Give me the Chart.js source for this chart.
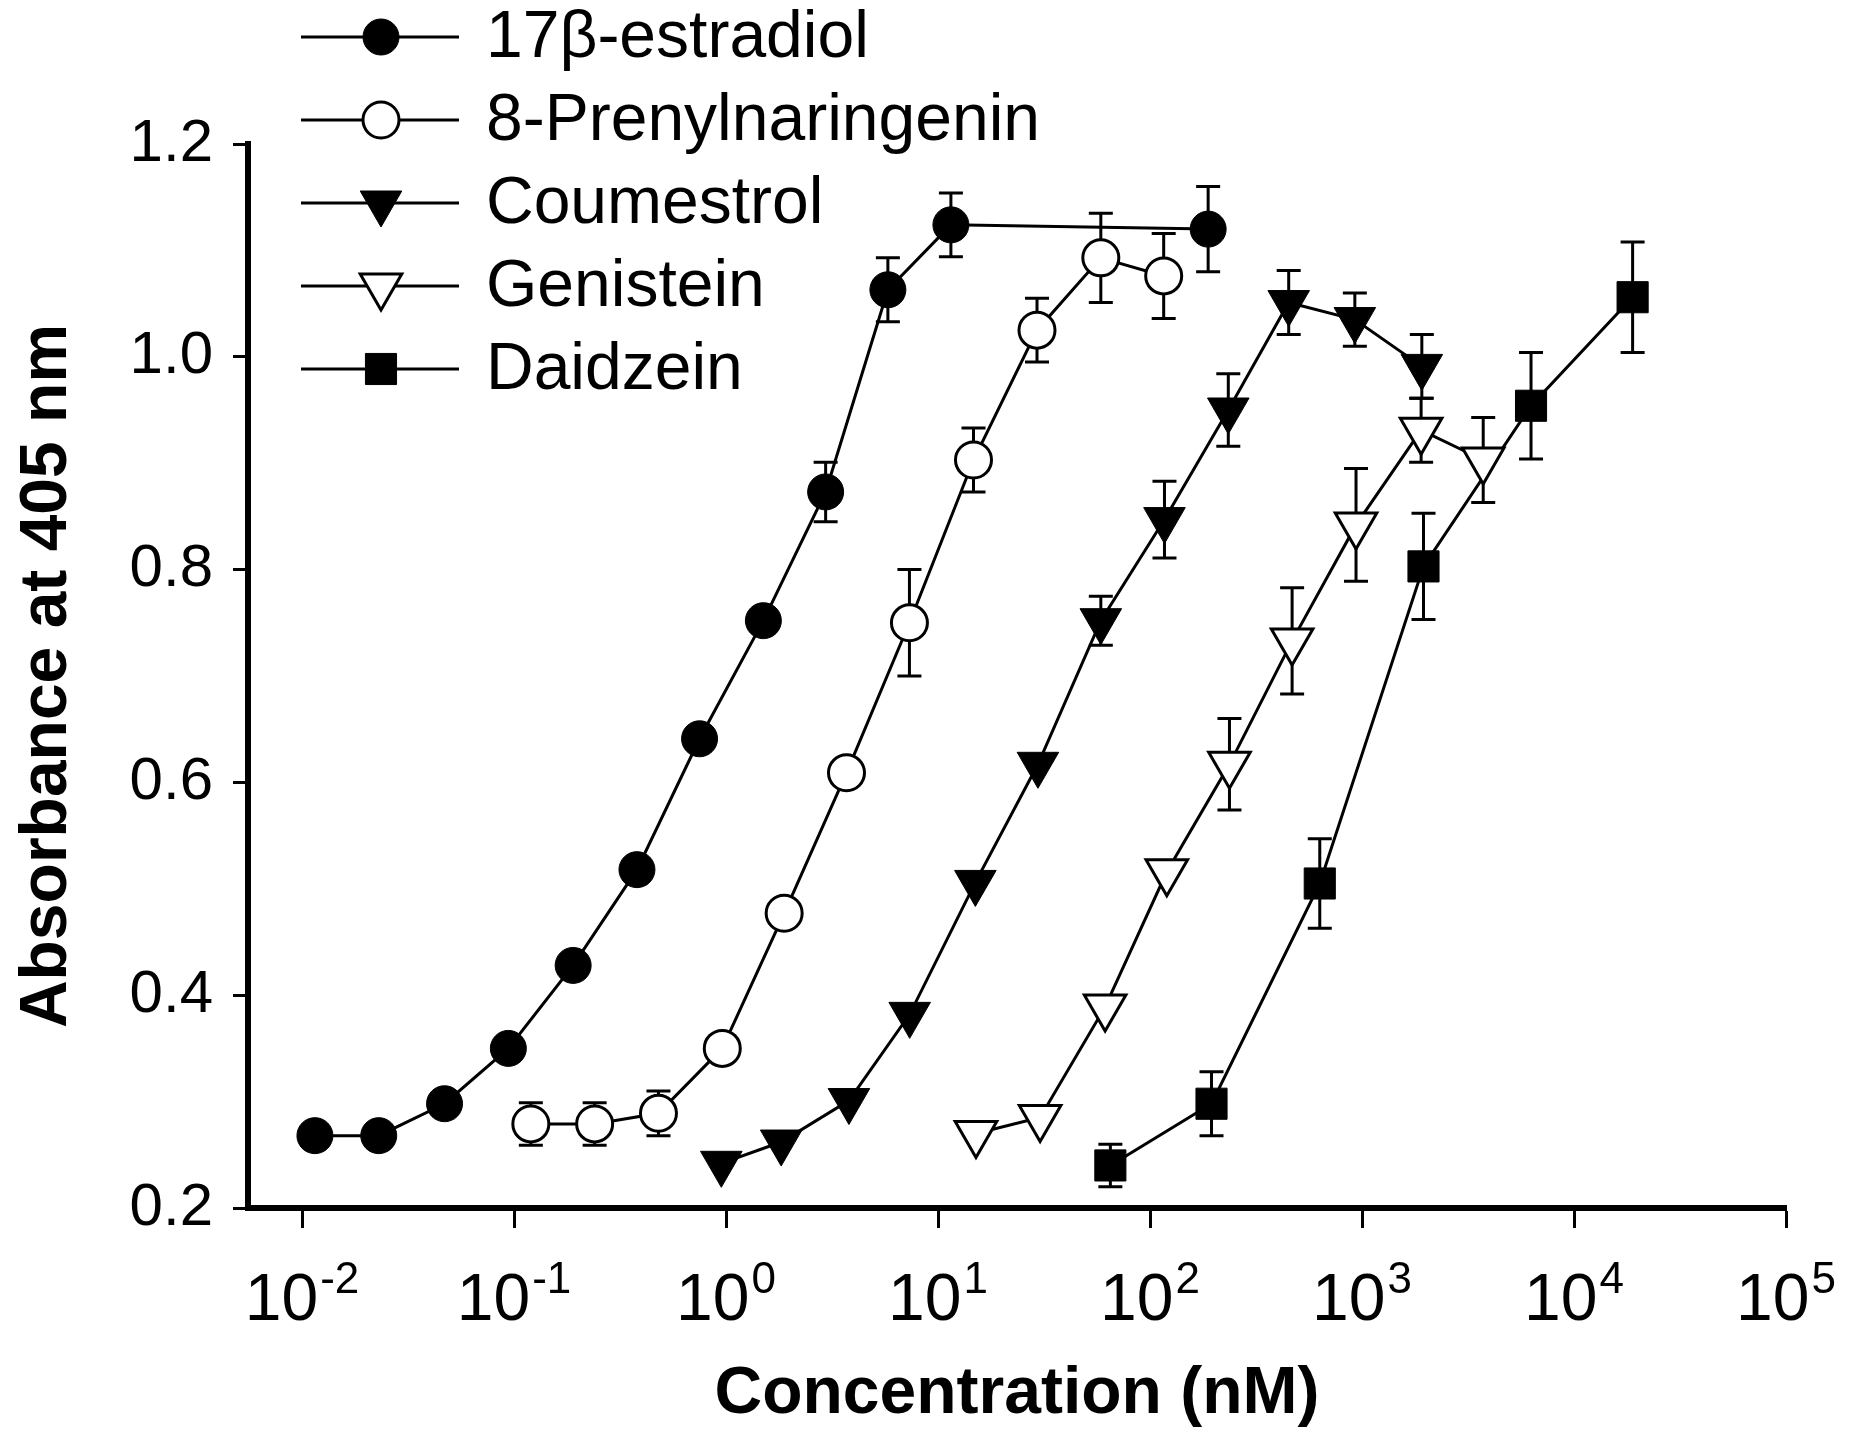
<!DOCTYPE html>
<html>
<head>
<meta charset="utf-8">
<title>Absorbance vs concentration</title>
<script src="https://cdn.jsdelivr.net/npm/chart.js@4.4.0/dist/chart.umd.min.js"></script>
<style>
  html, body { margin: 0; padding: 0; background: #fff; }
  #wrap { width: 1852px; height: 1438px; }
</style>
</head>
<body>
<div id="wrap"><canvas id="chart" width="1852" height="1438"></canvas></div>
<script>
// Datos (concentracion en nM, absorbancia a 405 nm, error +/-)
var seriesNames = ['17β-estradiol', '8-Prenylnaringenin', 'Coumestrol', 'Genistein', 'Daidzein'];

var estradiolX = [0.0115, 0.023, 0.047, 0.094, 0.19, 0.38, 0.75, 1.5, 2.95, 5.8, 11.5, 188];
var estradiolY = [0.268, 0.268, 0.298, 0.350, 0.428, 0.518, 0.641, 0.752, 0.873, 1.063, 1.124, 1.120];
var estradiolErr = [0, 0, 0, 0, 0, 0, 0, 0, 0.028, 0.03, 0.03, 0.04];

var prenylX = [0.12, 0.24, 0.48, 0.96, 1.88, 3.7, 7.33, 14.7, 29.3, 58.6, 116];
var prenylY = [0.279, 0.279, 0.289, 0.350, 0.477, 0.609, 0.750, 0.903, 1.025, 1.093, 1.076];
var prenylErr = [0.02, 0.02, 0.021, 0, 0, 0, 0.05, 0.03, 0.03, 0.042, 0.04];

var coumestrolX = [0.95, 1.82, 3.8, 7.35, 15.0, 29.6, 58.6, 117, 234, 451, 925, 1915];
var coumestrolY = [0.242, 0.262, 0.301, 0.382, 0.506, 0.617, 0.752, 0.847, 0.950, 1.051, 1.035, 0.991];
var coumestrolErr = [0, 0, 0, 0, 0, 0, 0.023, 0.036, 0.034, 0.03, 0.025, 0.03];

var genisteinX = [15.1, 30.3, 61.4, 120, 237, 468, 937, 1900, 3730];
var genisteinY = [0.270, 0.285, 0.389, 0.516, 0.617, 0.733, 0.842, 0.931, 0.903];
var genisteinErr = [0, 0, 0, 0, 0.043, 0.05, 0.053, 0.03, 0.04];

var daidzeinX = [65, 195, 632, 1950, 6270, 18900];
var daidzeinY = [0.240, 0.298, 0.505, 0.803, 0.954, 1.056];
var daidzeinErr = [0.02, 0.03, 0.042, 0.05, 0.05, 0.052];

var xTickValues = [1e-2, 1e-1, 1e0, 1e1, 1e2, 1e3, 1e4, 1e5];
var xTickExponents = ['-2', '-1', '0', '1', '2', '3', '4', '5'];
var yTickValues = [0.2, 0.4, 0.6, 0.8, 1.0, 1.2];

var FONT = "'Liberation Sans', Arial, Helvetica, sans-serif";

function toPoints(xs, ys) {
    return xs.map(function (x, i) { return { x: x, y: ys[i] }; });
}

function makeDataset(idx, xs, ys, errs, style, rotation, radius, filled) {
    return {
        label: seriesNames[idx],
        data: toPoints(xs, ys),
        errors: errs,
        borderColor: '#000',
        borderWidth: 3,
        pointStyle: style,
        pointRotation: rotation,
        pointRadius: radius,
        pointHoverRadius: radius,
        pointBackgroundColor: filled ? '#000' : '#fff',
        pointBorderColor: '#000',
        pointBorderWidth: filled ? 1 : 3,
        tension: 0,
        fill: false,
        clip: false
    };
}

var datasets = [
    makeDataset(0, estradiolX, estradiolY, estradiolErr, 'circle', 0, 18, true),
    makeDataset(1, prenylX, prenylY, prenylErr, 'circle', 0, 18, false),
    makeDataset(2, coumestrolX, coumestrolY, coumestrolErr, 'triangle', 180, 24, true),
    makeDataset(3, genisteinX, genisteinY, genisteinErr, 'triangle', 180, 24, false),
    makeDataset(4, daidzeinX, daidzeinY, daidzeinErr, 'rect', 0, 22, true)
];

// Barras de error (dibujadas antes de los marcadores)
var errorBarPlugin = {
    id: 'errorBars',
    beforeDatasetsDraw: function (chart) {
        var ctx = chart.ctx;
        var xs = chart.scales.x, ys = chart.scales.y;
        ctx.save();
        ctx.strokeStyle = '#000';
        ctx.lineWidth = 3;
        chart.data.datasets.forEach(function (ds) {
            ds.data.forEach(function (p, i) {
                var e = ds.errors[i];
                if (!e) return;
                var px = xs.getPixelForValue(p.x);
                var top = ys.getPixelForValue(p.y + e);
                var bot = ys.getPixelForValue(p.y - e);
                var cap = 12;
                ctx.beginPath();
                ctx.moveTo(px, top); ctx.lineTo(px, bot);
                ctx.moveTo(px - cap, top); ctx.lineTo(px + cap, top);
                ctx.moveTo(px - cap, bot); ctx.lineTo(px + cap, bot);
                ctx.stroke();
            });
        });
        ctx.restore();
    }
};

// Etiquetas 10^n del eje X con el exponente en superindice
var powerLabelPlugin = {
    id: 'powerLabels',
    afterDraw: function (chart) {
        var ctx = chart.ctx;
        var scale = chart.scales.x;
        var baseY = scale.top + 112;
        ctx.save();
        ctx.fillStyle = '#000';
        ctx.textAlign = 'left';
        ctx.textBaseline = 'alphabetic';
        xTickValues.forEach(function (v, i) {
            var px = scale.getPixelForValue(v);
            ctx.font = '66px ' + FONT;
            var wBase = ctx.measureText('10').width;
            ctx.font = '44px ' + FONT;
            var wExp = ctx.measureText(xTickExponents[i]).width;
            var x0 = px - (wBase + wExp + 2) / 2;
            ctx.font = '66px ' + FONT;
            ctx.fillText('10', x0, baseY);
            ctx.font = '44px ' + FONT;
            ctx.fillText(xTickExponents[i], x0 + wBase + 2, baseY - 27);
        });
        ctx.restore();
    }
};

// Leyenda en la esquina superior izquierda, como en la figura original
var legendPlugin = {
    id: 'sideLegend',
    afterDraw: function (chart) {
        var ctx = chart.ctx;
        var lineX0 = 301, lineX1 = 459, markX = 381, textX = 486;
        var y0 = 37, step = 83;
        ctx.save();
        chart.data.datasets.forEach(function (ds, i) {
            var y = y0 + i * step;
            ctx.strokeStyle = '#000';
            ctx.lineWidth = 3;
            ctx.beginPath();
            ctx.moveTo(lineX0, y); ctx.lineTo(lineX1, y);
            ctx.stroke();

            ctx.fillStyle = ds.pointBackgroundColor;
            ctx.strokeStyle = '#000';
            ctx.lineWidth = ds.pointBorderWidth;
            Chart.helpers.drawPoint(ctx, {
                pointStyle: ds.pointStyle,
                rotation: ds.pointRotation,
                radius: ds.pointRadius,
                borderWidth: ds.pointBorderWidth
            }, markX, y);

            ctx.fillStyle = '#000';
            ctx.font = '66px ' + FONT;
            ctx.textAlign = 'left';
            ctx.textBaseline = 'middle';
            ctx.fillText(ds.label, textX, y + 2);
        });
        ctx.restore();
    }
};

Chart.defaults.color = '#000';
Chart.defaults.font.family = FONT;

new Chart(document.getElementById('chart'), {
    type: 'line',
    data: { datasets: datasets },
    plugins: [errorBarPlugin, powerLabelPlugin, legendPlugin],
    options: {
        responsive: false,
        devicePixelRatio: 1,
        animation: false,
        layout: { padding: { left: 0, right: 66, top: 144, bottom: 0 } },
        plugins: {
            legend: { display: false },
            tooltip: { enabled: false }
        },
        scales: {
            x: {
                type: 'logarithmic',
                min: Math.pow(10, -2.255),
                max: 1e5,
                afterBuildTicks: function (scale) {
                    scale.ticks = xTickValues.map(function (v) { return { value: v }; });
                },
                afterFit: function (scale) { scale.height = 230; },
                ticks: {
                    font: { size: 64 },
                    padding: 24,
                    maxRotation: 0,
                    autoSkip: false,
                    // el texto se dibuja en powerLabelPlugin
                    callback: function () { return ''; }
                },
                grid: { display: true, drawOnChartArea: false, drawTicks: true, tickLength: 20, tickWidth: 3, tickColor: '#000' },
                border: { display: true, width: 6, color: '#000' },
                title: {
                    display: true,
                    text: 'Concentration (nM)',
                    font: { size: 66, weight: 'bold' },
                    padding: { top: 0, bottom: 4 }
                }
            },
            y: {
                type: 'linear',
                min: 0.2,
                max: 1.2,
                afterBuildTicks: function (scale) {
                    scale.ticks = yTickValues.map(function (v) { return { value: v }; });
                },
                afterFit: function (scale) { scale.width = 248; },
                ticks: {
                    font: { size: 60 },
                    padding: 20,
                    callback: function (value) { return value.toFixed(1); }
                },
                grid: { display: true, drawOnChartArea: false, drawTicks: true, tickLength: 15, tickWidth: 3, tickColor: '#000' },
                border: { display: true, width: 6, color: '#000' },
                title: {
                    display: true,
                    text: 'Absorbance at 405 nm',
                    font: { size: 66, weight: 'bold' },
                    padding: { top: 8, bottom: 0 }
                }
            }
        }
    }
});
</script>
</body>
</html>
